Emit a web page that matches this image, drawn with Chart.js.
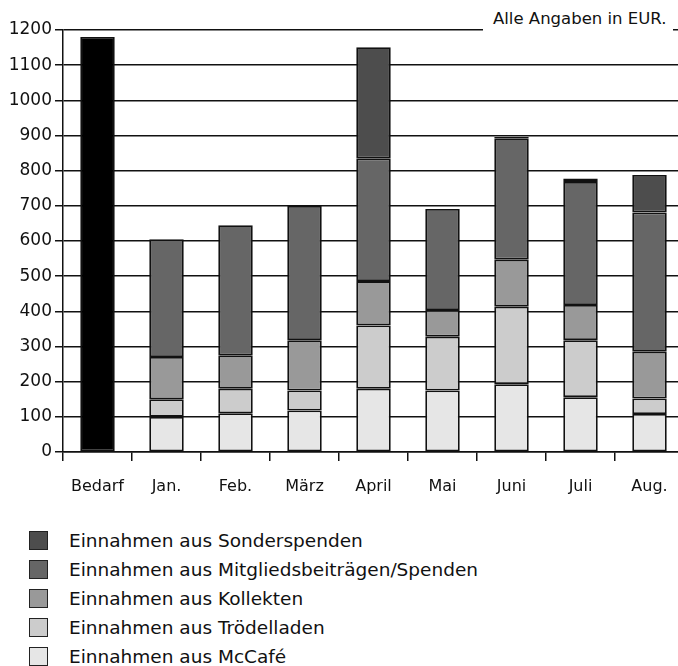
<!DOCTYPE html>
<html>
<head>
<meta charset="utf-8">
<script src="https://cdn.jsdelivr.net/npm/chart.js@4"></script>
<style>
  html, body { margin:0; padding:0; background:#fff; overflow:hidden; width:678px; height:666px; }
  #wrap { position:relative; width:678px; height:666px; overflow:hidden; }
  canvas { position:absolute; left:0; top:0; }
  #note { position:absolute; left:483px; top:8px; width:190px; height:25px; background:#fff;
          font-family:"DejaVu Sans", sans-serif; font-size:16.5px; color:#111; line-height:22px;
          padding-left:10px; box-sizing:border-box; white-space:nowrap; }
  #legend { position:absolute; left:29px; top:526px; font-family:"DejaVu Sans", sans-serif;
            font-size:18.5px; color:#111; }
  .item { height:29px; display:flex; align-items:center; white-space:nowrap; }
  .box { width:17px; height:17px; border:1.5px solid #222; margin-right:21px; flex:none; }
</style>
</head>
<body>
<div id="wrap">
  <canvas id="c" width="690" height="505"></canvas>
  <div id="note">Alle Angaben in EUR.</div>
  <div id="legend"></div>
</div>
<script>
const categories = ['Bedarf', 'Jan.', 'Feb.', 'März', 'April', 'Mai', 'Juni', 'Juli', 'Aug.'];
const bedarf     = [1180, null, null, null, null, null, null, null, null];
const mccafe     = [null, 100, 110, 118, 180, 175, 193, 156, 108];
const troedel    = [null, 50, 70, 57, 180, 153, 220, 162, 44];
const kollekten  = [null, 120, 95, 143, 126, 76, 134, 100, 133];
const mitglied   = [null, 335, 370, 382, 349, 287, 345, 350, 396];
const sonder     = [null, null, null, null, 316, null, 4, 10, 107];
const yTicks     = [0, 100, 200, 300, 400, 500, 600, 700, 800, 900, 1000, 1100, 1200];

const seriesNames = {
  bedarf: 'Bedarf',
  mccafe: 'Einnahmen aus McCafé',
  troedel: 'Einnahmen aus Trödelladen',
  kollekten: 'Einnahmen aus Kollekten',
  mitglied: 'Einnahmen aus Mitgliedsbeiträgen/Spenden',
  sonder: 'Einnahmen aus Sonderspenden'
};

function ds(label, data, color, inLegend) {
  return {
    label, data, backgroundColor: color, borderColor: '#111', borderWidth: 1.8,
    borderSkipped: false, barPercentage: 0.5, categoryPercentage: 1.0, inLegend
  };
}

const datasets = [
  ds(seriesNames.bedarf, bedarf, '#000000', false),
  ds(seriesNames.mccafe, mccafe, '#e6e6e6', true),
  ds(seriesNames.troedel, troedel, '#cccccc', true),
  ds(seriesNames.kollekten, kollekten, '#999999', true),
  ds(seriesNames.mitglied, mitglied, '#666666', true),
  ds(seriesNames.sonder, sonder, '#4d4d4d', true)
];

const chart = new Chart(document.getElementById('c'), {
  type: 'bar',
  data: { labels: categories, datasets },
  options: {
    responsive: false,
    devicePixelRatio: 1,
    animation: false,
    layout: { padding: { left: 4, right: 6, top: 30, bottom: 8 } },
    plugins: { legend: { display: false }, tooltip: { enabled: false } },
    scales: {
      x: {
        stacked: true,
        offset: true,
        grid: { offset: true, drawOnChartArea: false, color: '#111', lineWidth: 1.5, tickLength: 9 },
        border: { display: true, color: '#111', width: 1.5 },
        ticks: { color: '#111', padding: 16, font: { family: 'DejaVu Sans', size: 16 } },
        afterFit: s => { s.height = 45; }
      },
      y: {
        stacked: true,
        min: 0, max: 1200,
        afterBuildTicks: s => { s.ticks = yTicks.map(v => ({ value: v })); },
        grid: { color: '#111', lineWidth: 1.5, tickLength: 8 },
        border: { display: true, color: '#111', width: 1.5 },
        ticks: { color: '#111', padding: 3, font: { family: 'DejaVu Sans', size: 17 },
                 callback: v => String(v) },
        afterFit: s => { s.width = 59; }
      }
    }
  }
});

const legend = document.getElementById('legend');
chart.data.datasets.filter(d => d.inLegend).slice().reverse().forEach(d => {
  const it = document.createElement('div');
  it.className = 'item';
  const b = document.createElement('span');
  b.className = 'box';
  b.style.background = d.backgroundColor;
  const t = document.createElement('span');
  t.textContent = d.label;
  it.appendChild(b); it.appendChild(t);
  legend.appendChild(it);
});
</script>
</body>
</html>
